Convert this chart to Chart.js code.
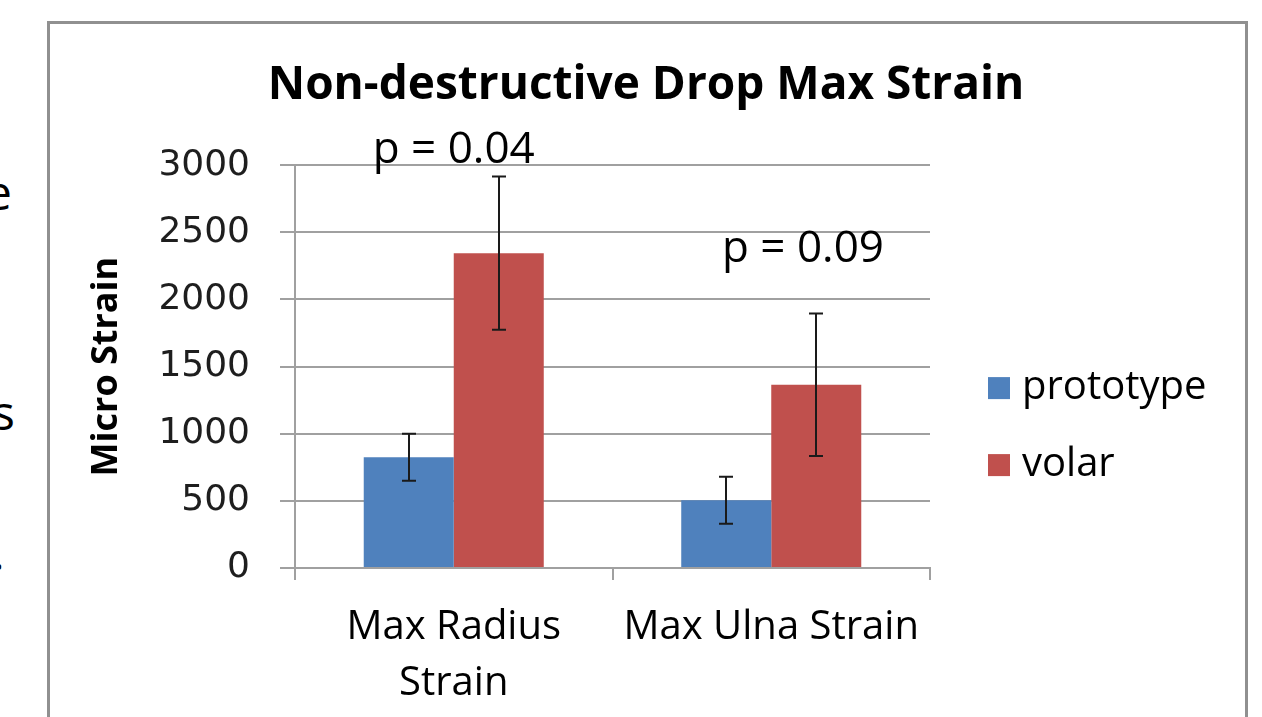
<!DOCTYPE html>
<html><head><meta charset="utf-8">
<script src="https://cdn.jsdelivr.net/npm/chart.js@4.4.1/dist/chart.umd.min.js"></script>
<style>
html,body{margin:0;padding:0;background:#fff;width:1262px;height:717px;overflow:hidden;position:relative;}
#frame{position:absolute;left:47px;top:21px;width:1201px;height:730px;border:3px solid #909090;box-sizing:border-box;}
#wrap{position:absolute;left:0;top:0;width:1262px;height:717px;}
.cut{position:absolute;font-family:'Open Sans';font-size:48px;color:#000;line-height:1;}
</style></head><body>
<div class="cut" style="left:-15px;top:168px">e</div>
<div class="cut" style="left:-8px;top:388px">s</div>
<div class="cut" style="left:-8px;top:528px">.</div>
<div id="frame"></div>
<div id="wrap"><canvas id="c" width="1262" height="717"></canvas></div>
<script>
const categories = [["Max Radius", "Strain"], "Max Ulna Strain"];
const seriesNames = ["prototype", "volar"];
const prototypeValues = [825, 505];
const prototypeErrors = [175, 175];
const volarValues = [2345, 1365];
const volarErrors = [570, 530];
const pValueLabels = ["p = 0.04", "p = 0.09"];
const yMin = 0, yMax = 3000, yStep = 500;

const annotationAnchors = [{x: 0, y: 3110}, {x: 1.1, y: 2370}];

const errorBarsPlugin = {
  id: 'errorBars',
  afterDatasetsDraw(chart) {
    const ctx = chart.ctx, ys = chart.scales.y;
    ctx.save();
    ctx.strokeStyle = '#1a1a1a';
    ctx.lineWidth = 2;
    chart.data.datasets.forEach((ds, i) => {
      const meta = chart.getDatasetMeta(i);
      meta.data.forEach((bar, j) => {
        const v = ds.data[j], e = ds.errors[j];
        const x = Math.round(bar.x);
        const yt = ys.getPixelForValue(v + e), yb = ys.getPixelForValue(v - e);
        ctx.beginPath();
        ctx.moveTo(x, yt); ctx.lineTo(x, yb);
        ctx.moveTo(x - 7, yt); ctx.lineTo(x + 7, yt);
        ctx.moveTo(x - 7, yb); ctx.lineTo(x + 7, yb);
        ctx.stroke();
      });
    });
    ctx.restore();
  }
};

const annotationPlugin = {
  id: 'pLabels',
  afterDraw(chart) {
    const ctx = chart.ctx, xs = chart.scales.x, ys = chart.scales.y;
    ctx.save();
    ctx.font = "44px 'Open Sans'";
    ctx.fillStyle = '#000';
    ctx.textAlign = 'center';
    ctx.textBaseline = 'middle';
    pValueLabels.forEach((t, i) => {
      const a = annotationAnchors[i];
      ctx.fillText(t, xs.getPixelForValue(a.x), ys.getPixelForValue(a.y));
    });
    ctx.restore();
  }
};

const legendPlugin = {
  id: 'sideLegend',
  afterDraw(chart) {
    const ctx = chart.ctx, area = chart.chartArea;
    ctx.save();
    ctx.font = "40px 'Open Sans'";
    ctx.textBaseline = 'middle';
    ctx.textAlign = 'left';
    const x0 = area.right + 58;
    const yc = (area.top + area.bottom) / 2 + 60;
    chart.data.datasets.forEach((ds, i) => {
      const y = yc + (i - 0.5) * 77;
      ctx.fillStyle = ds.backgroundColor;
      ctx.fillRect(x0, y - 11, 22, 22);
      ctx.fillStyle = '#000';
      ctx.fillText(ds.label, x0 + 34, y);
    });
    ctx.restore();
  }
};

new Chart(document.getElementById('c'), {
  type: 'bar',
  data: {
    labels: categories,
    datasets: [
      {label: seriesNames[0], data: prototypeValues, errors: prototypeErrors, backgroundColor: '#4F81BD', borderWidth: 0},
      {label: seriesNames[1], data: volarValues, errors: volarErrors, backgroundColor: '#C0504D', borderWidth: 0}
    ]
  },
  options: {
    responsive: false,
    animation: false,
    devicePixelRatio: 1,
    categoryPercentage: 0.567,
    barPercentage: 1.0,
    layout: {padding: {left: 30, right: 0, top: 0, bottom: 0}},
    plugins: {
      legend: {display: false},
      tooltip: {enabled: false},
      title: {
        display: true,
        text: 'Non-destructive Drop Max Strain',
        color: '#000',
        font: {family: 'Open Sans', size: 46, weight: 'bold', lineHeight: 1.2},
        padding: {top: 58, bottom: 52}
      }
    },
    scales: {
      x: {
        offset: true,
        grid: {offset: true, drawOnChartArea: false, drawTicks: true, tickLength: 12, color: '#a0a0a0', lineWidth: 2},
        border: {color: '#a0a0a0', width: 2},
        ticks: {font: {family: 'Open Sans', size: 40, lineHeight: 1.4}, color: '#000', padding: 20, maxRotation: 0, autoSkip: false},
        afterFit(s) { s.height = 149; }
      },
      y: {
        min: yMin, max: yMax,
        ticks: {stepSize: yStep, font: {family: 'DejaVu Sans', size: 36}, color: '#1e1e1e', padding: 30,
                callback: (v) => String(v)},
        grid: {color: '#a0a0a0', lineWidth: 2, tickLength: 15},
        border: {color: '#a0a0a0', width: 2},
        title: {display: true, text: 'Micro Strain', color: '#000', font: {family: 'Open Sans', size: 36, weight: 'bold'}, padding: {top: 55, bottom: 4}},
        afterFit(s) { s.width = 265; }
      },
      legendSpace: {
        type: 'linear',
        position: 'right',
        display: true,
        grid: {display: false, drawTicks: false},
        border: {display: false},
        ticks: {display: false},
        afterFit(s) { s.width = 332; }
      }
    }
  },
  plugins: [errorBarsPlugin, annotationPlugin, legendPlugin]
});
</script>
</body></html>
